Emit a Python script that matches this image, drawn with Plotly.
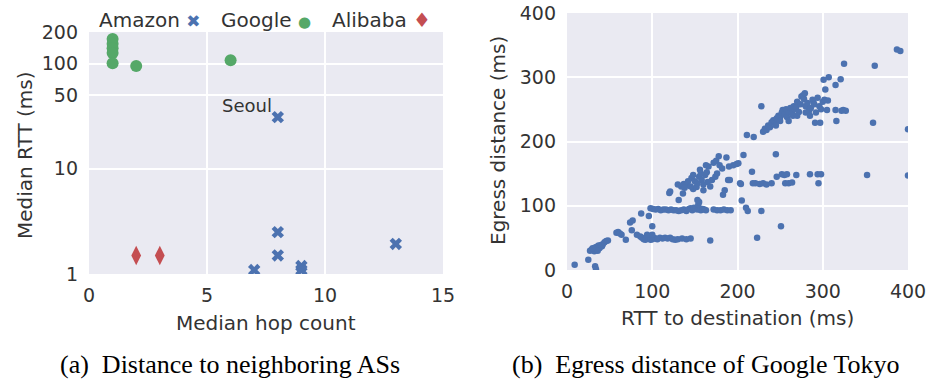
import math
import plotly.graph_objects as go

W, H = 931, 383

# ---- Panel (a): distance to neighboring ASs ----
amazon_hops = [8, 8, 8, 7, 9, 9, 13]
amazon_rtt = [31, 2.5, 1.5, 1.09, 1.19, 1.09, 1.93]
google_hops = [1, 1, 1, 1, 1, 2, 6]
google_rtt = [172, 155, 140, 126, 101, 95, 108]
alibaba_hops = [2, 3]
alibaba_rtt = [1.5, 1.5]
rtt_ticks = [1, 10, 50, 100, 200]
hop_ticks = [0, 5, 10, 15]

# ---- Panel (b): egress distance of Google Tokyo ----
egress_points = [
    # short paths
    (9, 8), (25, 16), (33, 6), (34, 1),
    (27, 30), (29, 32), (31, 33), (32, 29), (33, 35), (34, 31), (35, 36), (36, 33),
    (37, 38), (38, 34), (39, 36), (40, 39), (41, 37), (42, 40), (36, 30), (30, 34),
    (44, 43), (46, 45), (48, 46),
    (58, 58), (60, 59), (62, 57), (64, 55), (69, 47),
    (74, 74), (77, 77), (76, 62), (87, 88), (96, 84), (100, 68),
    # band near 95
    (98, 96), (101, 95), (104, 94), (107, 95), (110, 93), (113, 94), (116, 94),
    (119, 93), (122, 94), (125, 93), (128, 93), (131, 92), (134, 93), (137, 94),
    (140, 92), (143, 95), (145, 96), (147, 93), (149, 97), (151, 95), (153, 94),
    (155, 96), (157, 93), (159, 95), (161, 94), (163, 93), (172, 94), (176, 93),
    (180, 93), (184, 94), (188, 93), (192, 93),
    (154, 102), (155, 106), (153, 109), (131, 109), (205, 108), (210, 97),
    (212, 92), (228, 92),
    # band near 50
    (82, 55), (86, 52), (88, 50), (90, 48), (92, 47), (94, 50), (96, 49), (98, 47),
    (100, 48), (102, 50), (104, 49), (106, 48), (109, 50), (112, 49), (115, 50),
    (118, 49), (121, 50), (124, 48), (127, 47), (130, 48), (135, 49), (140, 48),
    (145, 49), (168, 46), (94, 55), (100, 55), (223, 50), (251, 68),
    # middle cluster
    (120, 120), (121, 122), (134, 130), (136, 119), (137, 134), (140, 132),
    (138, 128), (142, 138), (146, 143), (148, 126), (150, 138), (152, 129),
    (153, 135), (155, 145), (156, 156), (158, 140), (160, 133), (162, 148),
    (164, 152), (166, 161), (168, 130), (170, 140), (172, 167), (174, 145),
    (175, 170), (176, 150), (178, 177), (179, 163), (183, 117), (185, 124),
    (187, 175), (189, 140), (190, 161), (195, 163), (199, 165), (201, 166),
    (191, 140), (203, 135), (207, 179), (217, 153), (130, 133), (145, 130),
    (160, 124), (165, 137), (157, 150), (148, 148), (163, 163), (182, 158),
    # band near 140
    (204, 134), (218, 135), (221, 135), (226, 134), (230, 135), (234, 133),
    (240, 135), (246, 145), (252, 149), (255, 148), (258, 149), (256, 135),
    (260, 135), (264, 136), (269, 148), (285, 149), (294, 149), (298, 149),
    (295, 135), (245, 180),
    # upper cluster
    (211, 210), (219, 207), (228, 255), (230, 215), (232, 220), (234, 218),
    (236, 225), (238, 222), (240, 230), (242, 233), (244, 228), (246, 236),
    (248, 240), (250, 238), (252, 245), (253, 249), (255, 242), (257, 250),
    (258, 238), (260, 246), (262, 252), (264, 244), (266, 255), (268, 250),
    (269, 254), (270, 262), (272, 246), (274, 258), (275, 270), (277, 272),
    (278, 266), (279, 275), (280, 255), (282, 260), (284, 248), (286, 252),
    (288, 265), (289, 262), (290, 258), (292, 245), (294, 268), (296, 255),
    (298, 250), (300, 262), (302, 265), (303, 281), (301, 296), (305, 249),
    (306, 264), (307, 300), (315, 288), (316, 232), (321, 297), (322, 248),
    (325, 321), (324, 249), (327, 248), (291, 229), (297, 229), (359, 229),
    (361, 318), (387, 343), (391, 341), (400, 219), (352, 148), (400, 147),
    (315, 249), (260, 232), (265, 240), (250, 232), (245, 225), (280, 245),
    (285, 240), (270, 240),
]
egress_rtt = [p[0] for p in egress_points]
egress_dist = [p[1] for p in egress_points]
dist_ticks = [0, 100, 200, 300, 400]

BLUE = "#4C72B0"
GREEN = "#55A868"
RED = "#C44E52"
BG = "#EAEAF2"
TXT = "#333333"
SANS = "DejaVu Sans"
SERIF = "Liberation Serif"

fig = go.Figure()
fig.add_trace(go.Scatter(x=amazon_hops, y=amazon_rtt, mode="markers", name="Amazon",
                         marker=dict(symbol="x", size=11, color=BLUE, line=dict(width=0)),
                         xaxis="x", yaxis="y"))
fig.add_trace(go.Scatter(x=google_hops, y=google_rtt, mode="markers", name="Google",
                         marker=dict(symbol="circle", size=12, color=GREEN, line=dict(width=0)),
                         xaxis="x", yaxis="y"))
fig.add_trace(go.Scatter(x=alibaba_hops, y=alibaba_rtt, mode="markers", name="Alibaba",
                         marker=dict(symbol="diamond-tall", size=14, color=RED, line=dict(width=0)),
                         xaxis="x", yaxis="y"))
fig.add_trace(go.Scatter(x=egress_rtt, y=egress_dist, mode="markers", name="Google Tokyo",
                         marker=dict(symbol="circle", size=6.5, color=BLUE, line=dict(width=0)),
                         xaxis="x2", yaxis="y2"))

axis_common = dict(showgrid=True, gridcolor="white", gridwidth=2, zeroline=False,
                   showline=False, ticks="", automargin=False,
                   tickfont=dict(family=SANS, size=19, color=TXT))

fig.update_layout(
    template="none",
    width=W, height=H, margin=dict(l=0, r=0, t=0, b=0, pad=0),
    paper_bgcolor="white", plot_bgcolor=BG, showlegend=False,
    xaxis=dict(domain=[89 / W, 443 / W], anchor="y", range=[0, 15],
               tickvals=hop_ticks, ticklabelstandoff=8, **axis_common),
    yaxis=dict(domain=[1 - 274 / H, 1 - 32 / H], anchor="x", type="log",
               range=[0, math.log10(200)], tickvals=rtt_ticks,
               ticktext=[str(v) for v in rtt_ticks], ticklabelstandoff=10, **axis_common),
    xaxis2=dict(domain=[567 / W, 908 / W], anchor="y2", range=[0, 400],
                tickvals=dist_ticks, ticklabelstandoff=8, **axis_common),
    yaxis2=dict(domain=[1 - 270 / H, 1 - 13 / H], anchor="x2", range=[0, 400],
                tickvals=dist_ticks, ticklabelstandoff=10, **axis_common),
)

def note(text, x, y, size=20, family=SANS, angle=0, xanchor="center", color=TXT):
    fig.add_annotation(text=text, x=x / W, y=1 - y / H, xref="paper", yref="paper",
                       showarrow=False, textangle=angle, xanchor=xanchor, yanchor="middle",
                       font=dict(family=family, size=size, color=color))

# axis titles
note("Median hop count", 266, 323)
note("Median RTT (ms)", 25, 155, angle=-90)
note("RTT to destination (ms)", 737, 318)
note("Egress distance (ms)", 498, 141, angle=-90)

# captions
note("(a)  Distance to neighboring ASs", 230, 364, size=26, family=SERIF, color="black")
note("(b)  Egress distance of Google Tokyo", 706, 364, size=26, family=SERIF, color="black")

# legend row above panel (a)
note(f"Amazon <span style='color:{BLUE};font-size:17px'>✖</span>", 149, 20, size=20)
note(f"Google <span style='color:{GREEN};font-size:15px'>●</span>", 266, 20, size=20)
note(f"Alibaba <span style='color:{RED}'>♦</span>", 381, 20, size=20)

# label for the Seoul point
fig.add_annotation(text="Seoul", x=amazon_hops[0], y=math.log10(amazon_rtt[0]),
                   xref="x", yref="y", showarrow=False, xanchor="right", yanchor="bottom",
                   xshift=-4, yshift=-1, font=dict(family=SANS, size=18, color=TXT))

fig.write_html("out.html")
